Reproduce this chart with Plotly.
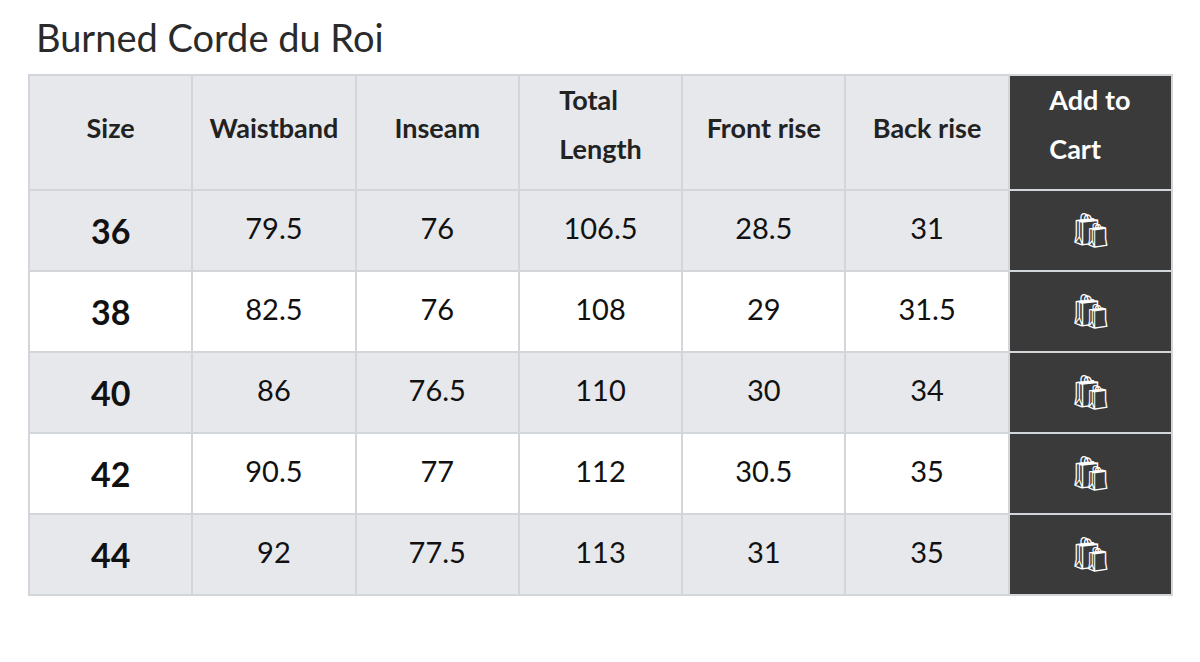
import plotly.graph_objects as go

title = "Burned Corde du Roi"
headers = ["Size", "Waistband", "Inseam", "Total<br>Length", "Front rise", "Back rise", "Add to<br>Cart"]
sizes = ["36", "38", "40", "42", "44"]
waistband = ["79.5", "82.5", "86", "90.5", "92"]
inseam = ["76", "76", "76.5", "77", "77.5"]
total_length = ["106.5", "108", "110", "112", "113"]
front_rise = ["28.5", "29", "30", "30.5", "31"]
back_rise = ["31", "31.5", "34", "35", "35"]
cart = ["🛍"] * 5

GRAY = "#e7e8ec"
WHITE = "#ffffff"
DARK = "#3a3a3a"
row_fill = [GRAY if i % 2 == 0 else WHITE for i in range(len(sizes))]
PAD = "&nbsp;<br>"


def sp(t, px):
    return '<span style="font-size:%dpx">%s</span>' % (px, t)


def head(h):
    parts = h.split("<br>")
    if len(parts) == 2:
        return sp("<b>%s</b>" % parts[0], 27) + "<br>" * 3 + sp("<b>%s</b>" % parts[1], 27)
    return PAD + sp("<b>%s</b>" % h, 27)


def cell(v, px, bold=False):
    return PAD + sp("<b>%s</b>" % v if bold else v, px)


head_base = [12.6 if "<br>" in h else 24 for h in headers]

fig = go.Figure(go.Table(
    columnwidth=[1] * 7,
    header=dict(
        values=[head(h) for h in headers],
        fill_color=[GRAY] * 6 + [DARK],
        line=dict(color="#d2d5da", width=2),
        font=dict(family="Lato", size=head_base, color=[["#222"]] * 6 + [["#ffffff"]]),
        align="center", height=115,
    ),
    cells=dict(
        values=[[cell(s, 34, True) for s in sizes]] +
               [[cell(v, 29) for v in col] for col in (waistband, inseam, total_length, front_rise, back_rise)] +
               [[cell(v, 34) for v in cart]],
        fill_color=[row_fill] * 6 + [[DARK] * 5],
        line=dict(color="#d2d5da", width=2),
        font=dict(family="Lato", size=[20, 18, 18, 18, 18, 18, 19],
                  color=[["#111"]] * 6 + [["#ffffff"]]),
        align="center", height=81,
    ),
    domain=dict(x=[21 / 1200, 1164 / 1200], y=[0, 1 - 67 / 662]),
))

fig.update_layout(
    width=1200, height=662,
    margin=dict(l=0, r=0, t=0, b=0),
    paper_bgcolor="white",
    annotations=[dict(text=title, x=26 / 1200, y=1 - 4 / 662, xref="paper", yref="paper",
                      xanchor="left", yanchor="top", showarrow=False,
                      font=dict(family="Lato", size=38, color="#2a2a2a"))],
)
fig.write_html("out.html")
